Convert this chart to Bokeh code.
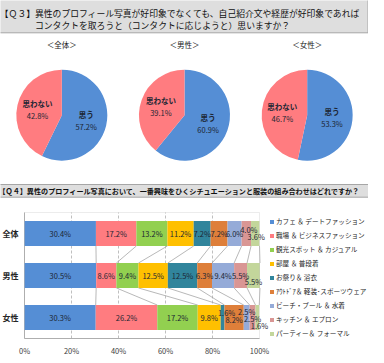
import math
from bokeh.plotting import figure
from bokeh.models import Range1d, ColumnDataSource, BoxAnnotation
from bokeh.layouts import column
from bokeh.embed import file_html
from bokeh.resources import INLINE
from bokeh.core.properties import value

# ---------------- data ----------------
Q3_TITLE_1 = "【Ｑ３】異性のプロフィール写真が好印象でなくても、自己紹介文や経歴が好印象であれば"
Q3_TITLE_2 = "コンタクトを取ろうと（コンタクトに応じようと）思いますか？"
Q4_TITLE = "【Ｑ４】異性のプロフィール写真において、一番興味をひくシチュエーションと服装の組み合わせはどれですか？"

pie_groups = ["全体", "男性", "女性"]
pie_titles = ["＜全体＞", "＜男性＞", "＜女性＞"]
pie_yes_label = "思う"
pie_no_label = "思わない"
pie_yes = [57.2, 60.9, 53.3]
pie_no = [42.8, 39.1, 46.7]

bar_groups = ["全体", "男性", "女性"]
bar_series = [
    "カフェ ＆ デートファッション",
    "職場 ＆ ビジネスファッション",
    "観光スポット ＆ カジュアル",
    "部屋 ＆ 普段着",
    "お祭り＆ 浴衣",
    "ｱｳﾄﾄﾞｱ＆ 軽装･スポーツウェア",
    "ビーチ・プール ＆ 水着",
    "キッチン ＆ エプロン",
    "パーティー＆ フォーマル",
]
bar_all = [30.4, 17.2, 13.2, 11.2, 7.2, 7.2, 6.0, 4.0, 3.6]
bar_male = [30.5, 8.6, 9.4, 12.5, 12.5, 6.3, 9.4, 5.5, 5.5]
bar_female = [30.3, 26.2, 17.2, 9.8, 1.6, 8.2, 2.5, 2.5, 1.6]
x_ticks = [0, 20, 40, 60, 80, 100]

# ---------------- styles ----------------
FONT = value("Noto Sans CJK JP")
PIE_BLUE = "#558ED5"
PIE_RED = "#FF7C80"
SERIES_COLORS = ["#558ED5", "#FF7C80", "#92D050", "#FFC000", "#31859C",
                 "#DE7F3A", "#95ABD8", "#D99694", "#C3D69B"]
TEXT_DARK = "#1c2633"
GRID = "#bfbfbf"
AXIS = "#a6a6a6"
# pixel nudges for crowded labels: (row, series) -> (dx, dy)
LABEL_NUDGE = {(0, 7): (2.5, -4), (0, 8): (1, 2.5), (1, 8): (0, 6),
               (2, 4): (4, -5), (2, 5): (0, 2), (2, 6): (0, -6.5),
               (2, 7): (0, 1), (2, 8): (2, 7.5)}

W = 368
H_TOP = 200
H_BAR = 155
LEFT_PX = 24          # space for category labels
PX_PER_PCT = 2.35     # horizontal scale of the bar chart
ROW_PX = 42           # height of one category band
TOP_PX = 12           # space above the bar plot area

# ---------------- top figure: Q3 title + pies + Q4 title ----------------
top = figure(width=W, height=H_TOP, x_range=Range1d(0, W), y_range=Range1d(0, H_TOP),
             output_backend="svg", toolbar_location=None,
             x_axis_type=None, y_axis_type=None, min_border=0, frame_align=False)
top.grid.visible = False
top.outline_line_color = None
top.background_fill_color = "white"
top.border_fill_color = "white"

# title boxes (decoration)
top.quad(left=[-7], right=[367.5], bottom=[167.7], top=[205],
         fill_color="#dedede", line_color=AXIS, line_width=1)
top.text(x=[-0.7], y=[187], text=[Q3_TITLE_1], text_font=FONT, text_font_size="8.8px",
         text_baseline="middle", text_align="left", text_color="#111111")
top.text(x=[34.5], y=[174.8], text=[Q3_TITLE_2], text_font=FONT, text_font_size="8.8px",
         text_baseline="middle", text_align="left", text_color="#111111")

top.quad(left=[-5.5], right=[373], bottom=[3.3], top=[16],
         fill_color="#dedede", line_color=AXIS, line_width=1)
top.text(x=[-2], y=[9.4], text=[Q4_TITLE], text_font=FONT, text_font_size="7.1px",
         text_baseline="middle", text_align="left", text_color="#111111",
         text_font_style="bold")

# pies
panel_w = W / len(pie_groups)
cx = [panel_w * (i + 0.5) for i in range(len(pie_groups))]
cy = [85.3] * len(pie_groups)
R = 45.5
top.text(x=cx, y=[155.7] * 3, text=pie_titles, text_font=FONT, text_font_size="7.5px",
         text_baseline="middle", text_align="center", text_color="#222222")

yes_start = [math.pi / 2 - 2 * math.pi * v / 100 for v in pie_yes]
yes_end = [math.pi / 2] * 3
no_start = [math.pi / 2] * 3
no_end = [math.pi / 2 + 2 * math.pi * v / 100 for v in pie_no]
top.wedge(x=cx, y=cy, radius=R, radius_units="screen", start_angle=yes_start,
          end_angle=yes_end, fill_color=PIE_BLUE, line_color=None)
top.wedge(x=cx, y=cy, radius=R, radius_units="screen", start_angle=no_start,
          end_angle=no_end, fill_color=PIE_RED, line_color=None)

RL = 25
for vals, name, sign in ((pie_yes, pie_yes_label, -1), (pie_no, pie_no_label, 1)):
    mids = [math.pi / 2 + sign * math.pi * v / 100 for v in vals]
    lx = [c + RL * math.cos(a) for c, a in zip(cx, mids)]
    ly = [c + RL * math.sin(a) for c, a in zip(cy, mids)]
    top.text(x=lx, y=[v + 6 for v in ly], text=[name] * 3, text_font=FONT,
             text_font_size="7.5px", text_font_style="bold", text_baseline="middle",
             text_align="center", text_color=TEXT_DARK)
    top.text(x=lx, y=[v - 6 for v in ly], text=[f"{v:.1f}%" for v in vals], text_font=FONT,
             text_font_size="7.5px", text_baseline="middle", text_align="center",
             text_color=TEXT_DARK)

# ---------------- bar figure ----------------
rows = [bar_all, bar_male, bar_female]
n = len(bar_groups)
ypos = [n - i - 0.5 for i in range(n)]
BAR_H = 0.594
x_start = -LEFT_PX / PX_PER_PCT
x_end = x_start + W / PX_PER_PCT
y_end = n + TOP_PX / ROW_PX
y_start = y_end - H_BAR / ROW_PX

bar = figure(width=W, height=H_BAR, x_range=Range1d(x_start, x_end),
             y_range=Range1d(y_start, y_end), output_backend="svg",
             toolbar_location=None, frame_align=False, min_border=0,
             x_axis_type=None, y_axis_type=None)
bar.grid.visible = False
bar.background_fill_color = "white"
bar.border_fill_color = "white"
bar.outline_line_color = None

# dashed vertical grid over the plot area
inner = x_ticks[1:-1]
bar.segment(x0=inner, x1=inner, y0=[0] * len(inner), y1=[n] * len(inner),
            line_color=GRID, line_dash="3 2", line_width=1)
bar.add_layout(BoxAnnotation(left=x_ticks[0], right=x_ticks[-1], bottom=0, top=n,
                             fill_alpha=0, line_color=GRID, line_width=1))
bar.segment(x0=[0, 0], x1=[0, 100], y0=[0, 0], y1=[n, 0], line_color=AXIS, line_width=1)

data = {"y": ypos}
keys = []
for k in range(len(bar_series)):
    key = f"s{k}"
    keys.append(key)
    data[key] = [r[k] for r in rows]
src = ColumnDataSource(data)
bar.hbar_stack(keys, y="y", height=BAR_H, color=SERIES_COLORS, source=src,
               legend_label=bar_series, line_color=None)

# series lines
x0, y0, x1, y1 = [], [], [], []
cums = []
for r in rows:
    c, s = [], 0.0
    for v in r:
        s += v
        c.append(s)
    cums.append(c)
for i in range(n - 1):
    for k in range(len(bar_series)):
        x0.append(cums[i][k]); y0.append(ypos[i] - BAR_H / 2)
        x1.append(cums[i + 1][k]); y1.append(ypos[i + 1] + BAR_H / 2)
bar.segment(x0=x0, y0=y0, x1=x1, y1=y1, line_color=AXIS, line_width=0.8)

# value labels
lx, ly, lt, dx, dy = [], [], [], [], []
for i, r in enumerate(rows):
    for k, v in enumerate(r):
        lx.append(cums[i][k] - v / 2)
        ly.append(ypos[i])
        lt.append(f"{v:.1f}%")
        ox, oy = LABEL_NUDGE.get((i, k), (0, 0))
        dx.append(ox); dy.append(oy)
lsrc = ColumnDataSource(dict(x=lx, y=ly, t=lt, dx=dx, dy=dy))
bar.text(x="x", y="y", text="t", x_offset="dx", y_offset="dy", source=lsrc,
         text_font=FONT, text_font_size="7.5px", text_align="center",
         text_baseline="middle", text_color=TEXT_DARK)

# tick labels and category labels
bar.text(x=x_ticks, y=[-12 / ROW_PX] * len(x_ticks), text=[f"{t}%" for t in x_ticks],
         text_font=FONT, text_font_size="7.5px", text_align="center",
         text_baseline="middle", text_color="#404040")
bar.text(x=[-6 / PX_PER_PCT] * n, y=ypos, text=bar_groups, text_font=FONT,
         text_font_size="8px", text_font_style="bold", text_align="right",
         text_baseline="middle", text_color="#262626")

lg = bar.legend[0]
lg.location = (269, 15)
lg.glyph_width = 5
lg.glyph_height = 5
lg.label_height = 14
lg.spacing = 0
lg.padding = 0
lg.margin = 0
lg.label_standoff = 2
lg.border_line_color = None
lg.background_fill_alpha = 0
lg.label_text_font = "Noto Sans CJK JP"
lg.label_text_font_size = "6.6px"
lg.label_text_color = "#262626"

layout = column(top, bar, spacing=0)
open("out.html", "w").write(file_html(layout, INLINE))
